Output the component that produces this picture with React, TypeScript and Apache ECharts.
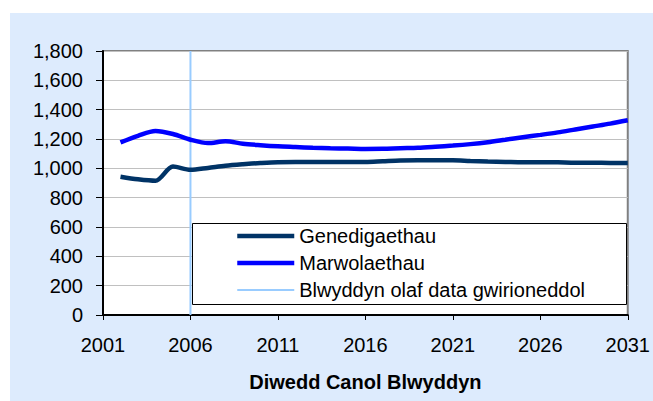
import React, { useEffect, useRef } from "react";
import * as echarts from "echarts";

const years = [2002, 2003, 2004, 2005, 2006, 2007, 2008, 2009, 2010, 2011, 2012, 2013, 2014, 2015, 2016, 2017, 2018, 2019, 2020, 2021, 2022, 2023, 2024, 2025, 2026, 2027, 2028, 2029, 2030, 2031];
const births = [943, 925, 915, 1012, 990, 1003, 1018, 1028, 1036, 1042, 1043, 1043, 1043, 1043, 1043, 1048, 1053, 1055, 1055, 1055, 1050, 1046, 1044, 1042, 1042, 1041, 1038, 1038, 1037, 1037];
const deaths = [1177, 1222, 1255, 1234, 1195, 1172, 1185, 1168, 1158, 1150, 1145, 1140, 1137, 1135, 1132, 1133, 1137, 1140, 1147, 1155, 1165, 1178, 1195, 1212, 1228, 1245, 1265, 1285, 1305, 1328];
const lastActualYear = 2006;
const seriesNames = ["Genedigaethau", "Marwolaethau", "Blwyddyn olaf data gwirioneddol"];
const xAxisTitle = "Diwedd Canol Blwyddyn";

const FONT = 'Arial, "Liberation Sans", sans-serif';

export default function App() {
  const ref = useRef<HTMLDivElement>(null);
  useEffect(() => {
    if (!ref.current) return;
    const chart = echarts.init(ref.current, null, { renderer: "svg" });
    chart.setOption({
      animation: false,
      backgroundColor: "#ffffff",
      graphic: [
        { type: "rect", z: -10, silent: true, shape: { x: 10, y: 13, width: 660, height: 400 }, style: { fill: "#DDEBFD" } },
        { type: "rect", z: 3, silent: true, shape: { x: 192.5, y: 223.5, width: 434, height: 81 }, style: { fill: "#ffffff", stroke: "#000000", lineWidth: 1 } },
      ],
      grid: {
        left: 103, top: 51, right: 21, bottom: 86,
        show: true, backgroundColor: "#ffffff", borderColor: "#808080", borderWidth: 2,
      },
      legend: {
        orient: "vertical",
        left: 192, top: 223,
        padding: [3, 10, 5, 43],
        itemWidth: 57, itemHeight: 14, itemGap: 7,
        z: 5,
        itemStyle: { opacity: 0, borderWidth: 0 },
        data: [
          { name: seriesNames[0], lineStyle: { width: 4.5, color: "#003366" } },
          { name: seriesNames[1], lineStyle: { width: 4.5, color: "#0000FF" } },
          { name: seriesNames[2], lineStyle: { width: 2, color: "#99CCFF" } },
        ],
        textStyle: { fontFamily: FONT, fontSize: 20, color: "#000" },
      },
      xAxis: {
        type: "value", min: 2001, max: 2031, interval: 5,
        name: xAxisTitle, nameLocation: "middle", nameGap: 57,
        nameTextStyle: { fontFamily: FONT, fontSize: 20, fontWeight: "bold", color: "#000" },
        axisLine: { lineStyle: { color: "#000", width: 2 } },
        axisTick: { show: true, length: 5, lineStyle: { color: "#000" } },
        axisLabel: { fontFamily: FONT, fontSize: 20, color: "#000", margin: 20, formatter: (v: number) => String(v) },
        splitLine: { show: false },
      },
      yAxis: {
        type: "value", min: 0, max: 1800, interval: 200,
        axisLine: { show: true, lineStyle: { color: "#000", width: 2 } },
        axisTick: { show: true, length: 7, lineStyle: { color: "#000" } },
        axisLabel: { fontFamily: FONT, fontSize: 20, color: "#000", margin: 20, formatter: (v: number) => v.toLocaleString("en-US") },
        splitLine: { show: true, lineStyle: { color: "#C0C0C0", width: 1 } },
      },
      series: [
        {
          name: seriesNames[0], type: "line", z: 3, smooth: 0.3, symbol: "none",
          data: years.map((y, i) => [y, births[i]]),
          lineStyle: { color: "#003366", width: 4.5 }, itemStyle: { color: "#003366" },
        },
        {
          name: seriesNames[1], type: "line", z: 3, smooth: 0.3, symbol: "none",
          data: years.map((y, i) => [y, deaths[i]]),
          lineStyle: { color: "#0000FF", width: 4.5 }, itemStyle: { color: "#0000FF" },
        },
        {
          name: seriesNames[2], type: "line", z: 2, symbol: "none",
          data: [[lastActualYear, 0], [lastActualYear, 1800]],
          lineStyle: { color: "#99CCFF", width: 2 }, itemStyle: { color: "#99CCFF" },
        },
      ],
    });
    return () => chart.dispose();
  }, []);
  return <div ref={ref} style={{ position: "fixed", left: 0, top: 0, width: 653, height: 401 }} />;
}
